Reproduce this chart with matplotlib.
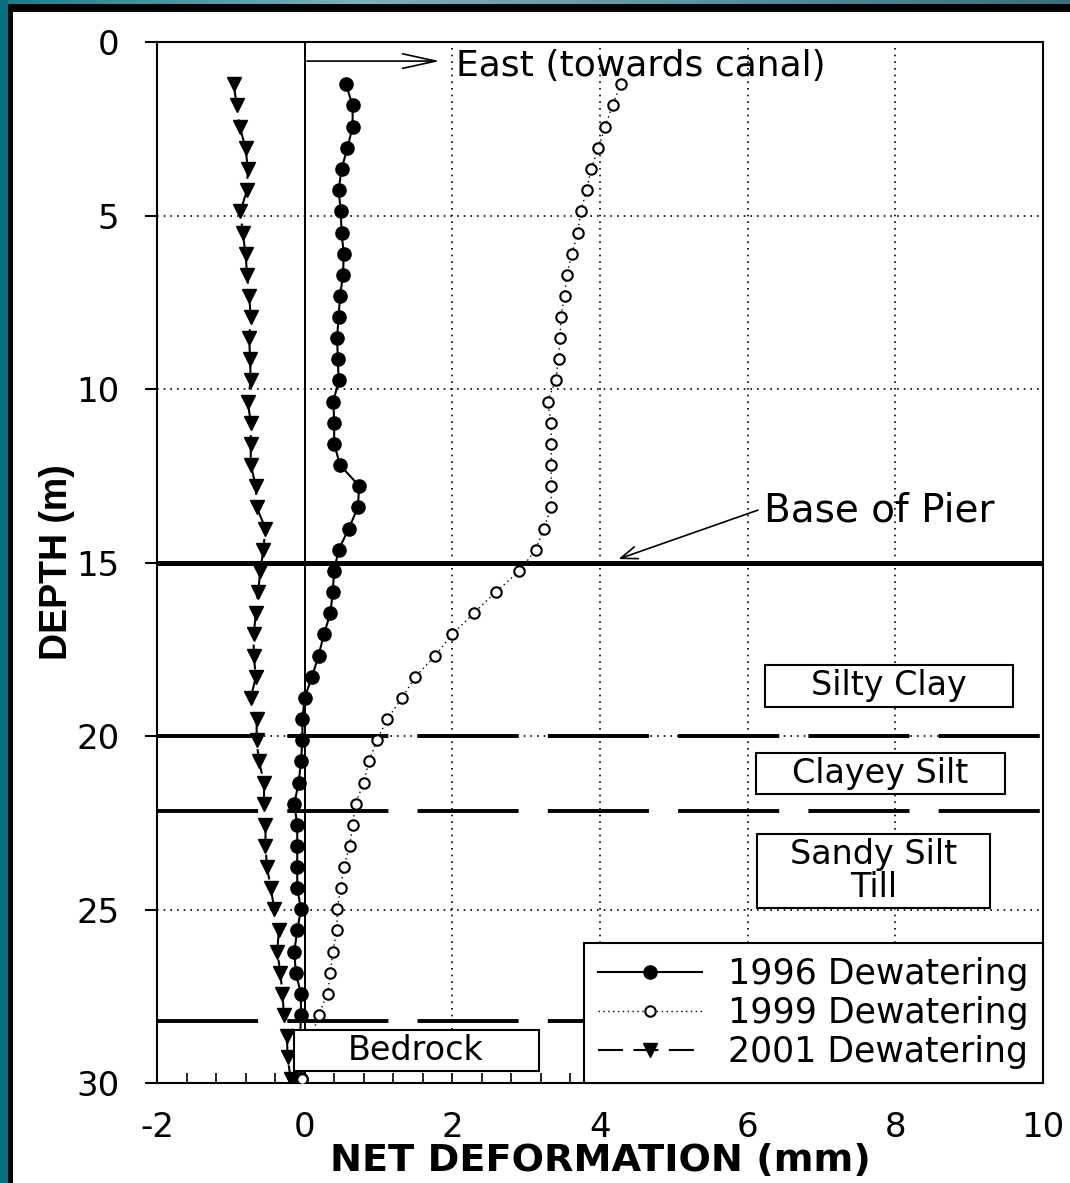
import matplotlib.pyplot as plt
import numpy as np
from matplotlib.patches import Rectangle
from matplotlib.lines import Line2D
from matplotlib.ticker import MultipleLocator
from matplotlib.colors import LinearSegmentedColormap

plt.rcParams['axes.unicode_minus'] = False

# inclinometer readings every 2 ft
depth_m = [1.22, 1.83, 2.44, 3.05, 3.66, 4.27, 4.88, 5.49, 6.10, 6.71,
           7.32, 7.92, 8.53, 9.14, 9.75, 10.36, 10.97, 11.58, 12.19, 12.80,
           13.41, 14.02, 14.63, 15.24, 15.85, 16.46, 17.07, 17.68, 18.29, 18.90,
           19.51, 20.12, 20.73, 21.34, 21.95, 22.56, 23.16, 23.77, 24.38, 24.99,
           25.60, 26.21, 26.82, 27.43, 28.04, 28.65, 29.26, 29.87]

def_1996 = [0.56, 0.65, 0.65, 0.58, 0.50, 0.46, 0.49, 0.50, 0.53, 0.52,
            0.48, 0.46, 0.44, 0.45, 0.46, 0.39, 0.40, 0.40, 0.48, 0.74,
            0.72, 0.60, 0.46, 0.40, 0.38, 0.35, 0.26, 0.19, 0.10, 0.00,
            -0.03, -0.03, -0.05, -0.08, -0.14, -0.10, -0.10, -0.10, -0.10, -0.05,
            -0.10, -0.14, -0.12, -0.05, -0.05, -0.06, -0.06, -0.05]

def_1999 = [4.28, 4.17, 4.07, 3.98, 3.88, 3.82, 3.74, 3.70, 3.62, 3.55,
            3.52, 3.47, 3.46, 3.44, 3.40, 3.29, 3.34, 3.34, 3.34, 3.34,
            3.34, 3.24, 3.13, 2.91, 2.59, 2.29, 2.00, 1.77, 1.50, 1.32,
            1.12, 0.98, 0.87, 0.80, 0.69, 0.65, 0.61, 0.53, 0.49, 0.44,
            0.44, 0.38, 0.35, 0.31, 0.19, 0.10, 0.02, -0.03]

def_2001 = [-0.96, -0.92, -0.88, -0.80, -0.77, -0.78, -0.87, -0.84, -0.80, -0.78,
            -0.75, -0.73, -0.75, -0.74, -0.73, -0.77, -0.73, -0.73, -0.73, -0.66,
            -0.65, -0.53, -0.56, -0.60, -0.63, -0.66, -0.69, -0.69, -0.66, -0.73,
            -0.65, -0.65, -0.62, -0.55, -0.55, -0.53, -0.53, -0.51, -0.46, -0.41,
            -0.35, -0.37, -0.33, -0.30, -0.28, -0.24, -0.23, -0.19]

series_labels = ['1996 Dewatering', '1999 Dewatering', '2001 Dewatering']

pier_base = 15.0
layer_bounds = [20.0, 22.15, 28.2]

# soil layers: name, x from, x to, depth top, depth bottom
layer_names = ['Silty Clay', 'Clayey Silt', 'Sandy Silt\nTill', 'Bedrock']
layer_x = [(6.23, 9.60), (6.12, 9.48), (6.13, 9.28), (-0.15, 3.17)]
layer_d = [(17.95, 19.16), (20.49, 21.67), (22.82, 24.96), (28.47, 29.65)]

fig = plt.figure(figsize=(10.7, 11.83), dpi=100)
ax = fig.add_axes([0.1467, 0.0845, 0.828, 0.88])

# slide border
W, H = 1070.0, 1183.0
fig.add_artist(Rectangle((0, 0), 8 / W, 1, transform=fig.transFigure,
                         facecolor='#08717f', edgecolor='none'))
fig.add_artist(Rectangle((8 / W, 0), 5 / W, 1 - 4 / H, transform=fig.transFigure,
                         facecolor='black', edgecolor='none'))
fig.add_artist(Rectangle((8 / W, 1 - 12 / H), 1 - 8 / W, 8 / H, transform=fig.transFigure,
                         facecolor='black', edgecolor='none'))
ax_top = fig.add_axes([0, 1 - 4 / H, 1, 4 / H])
band = LinearSegmentedColormap.from_list('band', ['#1d7c8a', '#7fb0c0', '#5d8fa2', '#3c6e80'])
ax_top.imshow(np.linspace(0, 1, 200)[None, :], aspect='auto', cmap=band)
ax_top.axis('off')

ax.set_xlim(-2, 10)
ax.set_ylim(30, 0)
ax.xaxis.set_major_locator(MultipleLocator(2))
ax.xaxis.set_minor_locator(MultipleLocator(0.4))
ax.yaxis.set_major_locator(MultipleLocator(5))
ax.set_axisbelow(True)
ax.grid(True, which='major', color='black', linestyle=(0, (1, 3)), linewidth=1.2)

ax.axvline(0, color='black', lw=1.4, zorder=2)
ax.axhline(pier_base, color='black', lw=3.6, zorder=3)
for d in layer_bounds:
    ax.axhline(d, color='black', lw=2.8, linestyle=(0, (26, 7.5)), zorder=3)

ax.plot(def_1996, depth_m, color='black', lw=1.5, marker='o', ms=9.5, zorder=4)
ax.plot(def_1999, depth_m, color='black', lw=1.0, linestyle=(0, (1, 2.5)),
        marker='o', ms=7.5, mfc='white', mec='black', mew=1.5, zorder=4)
ax.plot(def_2001, depth_m, color='black', lw=1.5, linestyle=(0, (12, 5)),
        marker='v', ms=10.5, zorder=4)

for name, (x0, x1), (d0, d1) in zip(layer_names, layer_x, layer_d):
    ax.add_patch(Rectangle((x0, d0), x1 - x0, d1 - d0, facecolor='white',
                           edgecolor='black', lw=1.5, zorder=5))
    ax.text((x0 + x1) / 2, (d0 + d1) / 2, name, ha='center', va='center',
            fontsize=24, linespacing=1.0, zorder=6)

ax.annotate('', xy=(1.83, 0.55), xytext=(0.03, 0.55),
            arrowprops=dict(arrowstyle='->,head_length=1.6,head_width=0.35',
                            lw=1.2, color='black', mutation_scale=15,
                            shrinkA=0, shrinkB=0))
ax.text(2.05, 0.7, 'East (towards canal)', ha='left', va='center', fontsize=26)

ax.annotate('', xy=(4.25, 14.9), xytext=(6.14, 13.49),
            arrowprops=dict(arrowstyle='->,head_length=0.8,head_width=0.3',
                            lw=1.2, color='black', mutation_scale=15,
                            shrinkA=0, shrinkB=0))
ax.text(6.22, 13.49, 'Base of Pier', ha='left', va='center', fontsize=28)

handles = [
    Line2D([], [], color='black', lw=1.5, marker='o', ms=9.5),
    Line2D([], [], color='black', lw=1.0, linestyle=(0, (1, 2.5)), marker='o',
           ms=7.5, mfc='white', mec='black', mew=1.5),
    Line2D([], [], color='black', lw=1.5, linestyle=(0, (12, 5)), marker='v', ms=10.5),
]
leg = ax.legend(handles, series_labels, loc='lower right', bbox_to_anchor=(1, 0),
                borderaxespad=0, fancybox=False, edgecolor='black', framealpha=1,
                fontsize=25, handlelength=3.0, handletextpad=0.75,
                labelspacing=0.15, borderpad=0.4)
leg.get_frame().set_linewidth(1.5)
leg.set_zorder(10)

for s in ax.spines.values():
    s.set_linewidth(1.5)
ax.tick_params(axis='x', which='both', direction='in', length=7, width=1.2,
               pad=20, labelsize=24.5)
ax.tick_params(axis='y', direction='out', length=9, width=1.5, pad=18, labelsize=24.5)

ax.set_xlabel('NET DEFORMATION (mm)', fontsize=27.5, fontweight='bold')
ax.xaxis.set_label_coords(0.5, -0.058)
ax.set_ylabel('DEPTH (m)', fontsize=27, fontweight='bold',
              family=['Liberation Sans', 'DejaVu Sans'])
ax.yaxis.set_label_coords(-0.092, 0.5)

plt.savefig('out.png', dpi=100)
